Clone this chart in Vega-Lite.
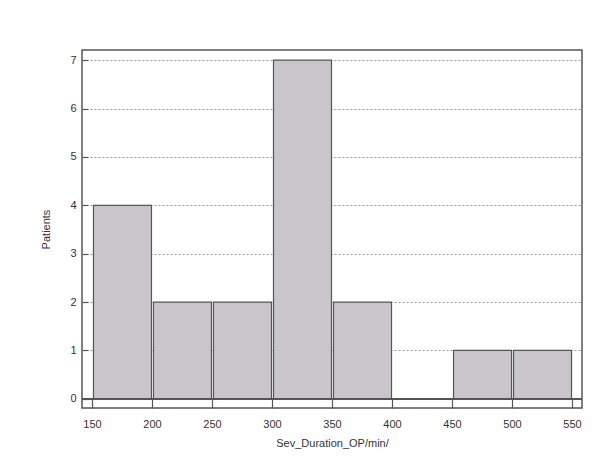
{
  "$schema": "https://vega.github.io/schema/vega-lite/v6.json",
  "width": 500,
  "height": 358,
  "autosize": "none",
  "padding": {"left": 82, "top": 50, "right": 23, "bottom": 51},
  "background": "#ffffff",
  "config": {
    "view": {"stroke": "#555555", "strokeWidth": 1.5},
    "font": "Liberation Sans",
    "axis": {
      "labelFont": "Liberation Sans",
      "titleFont": "Liberation Sans",
      "labelFontSize": 11,
      "titleFontSize": 11,
      "titleFontWeight": "normal",
      "labelColor": "#333333",
      "titleColor": "#333333",
      "tickColor": "#555555",
      "tickWidth": 1.2,
      "domain": false
    }
  },
  "data": {
    "values": [
      {"bin_start": 150, "bin_end": 200, "count": 4},
      {"bin_start": 200, "bin_end": 250, "count": 2},
      {"bin_start": 250, "bin_end": 300, "count": 2},
      {"bin_start": 300, "bin_end": 350, "count": 7},
      {"bin_start": 350, "bin_end": 400, "count": 2},
      {"bin_start": 400, "bin_end": 450, "count": 0},
      {"bin_start": 450, "bin_end": 500, "count": 1},
      {"bin_start": 500, "bin_end": 550, "count": 1}
    ]
  },
  "layer": [
    {
      "mark": {"type": "bar", "fill": "#c9c5cb", "stroke": "#555555", "strokeWidth": 1.2, "binSpacing": 2},
      "encoding": {
        "x": {
          "field": "bin_start",
          "bin": "binned",
          "type": "quantitative",
          "scale": {"domain": [141.7, 558.3], "nice": false, "zero": false},
          "axis": {
            "values": [150, 200, 250, 300, 350, 400, 450, 500, 550],
            "title": "Sev_Duration_OP/min/",
            "offset": -9,
            "tickSize": 9,
            "labelPadding": 10,
            "titlePadding": 8,
            "grid": false
          }
        },
        "x2": {"field": "bin_end"},
        "y": {
          "field": "count",
          "type": "quantitative",
          "scale": {"domain": [-0.19, 7.21], "nice": false, "zero": false},
          "axis": {
            "values": [0, 1, 2, 3, 4, 5, 6, 7],
            "title": "Patients",
            "offset": -6,
            "tickSize": 6,
            "labelPadding": 6,
            "titlePadding": 18,
            "grid": true,
            "gridColor": "#999999",
            "gridDash": [2, 2],
            "gridWidth": 1
          }
        },
        "y2": {"datum": 0}
      }
    },
    {
      "mark": {"type": "rule", "color": "#555555", "strokeWidth": 1.2},
      "encoding": {
        "y": {"datum": 0}
      }
    }
  ]
}
